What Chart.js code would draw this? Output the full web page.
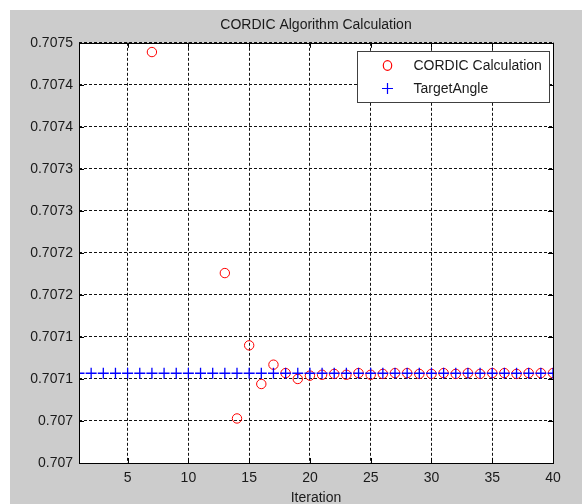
<!DOCTYPE html>
<html>
<head>
<meta charset="utf-8">
<script src="https://cdn.jsdelivr.net/npm/chart.js@4/dist/chart.umd.min.js"></script>
<style>
  html, body { margin: 0; padding: 0; background: #ffffff; overflow: hidden; }
  #panel { position: absolute; left: 10px; top: 10px; width: 572px; height: 494px; background: #cccccc; }
</style>
</head>
<body>
<div id="panel"><canvas id="cordicChart" width="572" height="494"></canvas></div>
<script>
// iteration numbers (x)
const iterations = [1, 2, 3, 4, 5, 6, 7, 8, 9, 10, 11, 12, 13, 14, 15, 16, 17, 18, 19, 20,
                    21, 22, 23, 24, 25, 26, 27, 28, 29, 30, 31, 32, 33, 34, 35, 36, 37, 38, 39, 40];

// CORDIC result per iteration (null = outside the visible range)
const cordicValues = [null, null, null, null, null, null, 0.707489, null, null, null, null, null,
                      0.707226, 0.707053, 0.707140, 0.707094, 0.707117, 0.707107, 0.707100, 0.707104,
                      0.707105, 0.707106, 0.707105, 0.707107, 0.707105, 0.707106, 0.707107, 0.707107,
                      0.707106, 0.707106, 0.707107, 0.707106, 0.707107, 0.707106, 0.707107, 0.707107,
                      0.707106, 0.707107, 0.707107, 0.707107];

// target angle value (cos 45deg)
const targetValues = [0.7071068, 0.7071068, 0.7071068, 0.7071068, 0.7071068, 0.7071068, 0.7071068, 0.7071068,
                      0.7071068, 0.7071068, 0.7071068, 0.7071068, 0.7071068, 0.7071068, 0.7071068, 0.7071068,
                      0.7071068, 0.7071068, 0.7071068, 0.7071068, 0.7071068, 0.7071068, 0.7071068, 0.7071068,
                      0.7071068, 0.7071068, 0.7071068, 0.7071068, 0.7071068, 0.7071068, 0.7071068, 0.7071068,
                      0.7071068, 0.7071068, 0.7071068, 0.7071068, 0.7071068, 0.7071068, 0.7071068, 0.7071068];

// axis ticks and their labels (MATLAB truncated the y labels to 4 decimals)
const xTicks = [5, 10, 15, 20, 25, 30, 35, 40];
const yTicks = [0.707, 0.70705, 0.7071, 0.70715, 0.7072, 0.70725, 0.7073, 0.70735, 0.7074, 0.70745, 0.7075];
const yTickLabels = ['0.707', '0.707', '0.7071', '0.7071', '0.7072', '0.7072', '0.7073', '0.7073', '0.7074', '0.7074', '0.7075'];

const FONT = '"Liberation Sans", Arial, sans-serif';
const FONT_SIZE = 14;
const TEXT_COLOR = '#1a1a1a';

// white plot background
const plotBackground = {
    id: 'plotBackground',
    beforeDraw(chart) {
        const { ctx, chartArea: a } = chart;
        ctx.save();
        ctx.fillStyle = '#ffffff';
        ctx.fillRect(a.left, a.top, a.right - a.left, a.bottom - a.top);
        ctx.restore();
    }
};

// solid box around the axes plus inward tick marks on all four sides
const axesFrame = {
    id: 'axesFrame',
    afterDatasetsDraw(chart) {
        const { ctx, chartArea: a, scales } = chart;
        const len = 5;
        ctx.save();
        ctx.strokeStyle = '#000000';
        ctx.lineWidth = 1;
        ctx.beginPath();
        scales.x.ticks.forEach(t => {
            const px = Math.round(scales.x.getPixelForValue(t.value)) + 0.5;
            ctx.moveTo(px, a.bottom); ctx.lineTo(px, a.bottom - len);
            ctx.moveTo(px, a.top); ctx.lineTo(px, a.top + len);
        });
        scales.y.ticks.forEach(t => {
            const py = Math.round(scales.y.getPixelForValue(t.value)) + 0.5;
            ctx.moveTo(a.left, py); ctx.lineTo(a.left + len, py);
            ctx.moveTo(a.right, py); ctx.lineTo(a.right - len, py);
        });
        ctx.stroke();
        ctx.strokeRect(Math.round(a.left) + 0.5, Math.round(a.top) + 0.5,
                       Math.round(a.right - a.left), Math.round(a.bottom - a.top));
        ctx.restore();
    }
};

// MATLAB style legend box in the upper right corner
const boxLegend = {
    id: 'boxLegend',
    afterDraw(chart) {
        const { ctx, chartArea: a } = chart;
        const w = 192, h = 51;
        const x = Math.round(a.right - 4 - w) + 0.5;
        const y = Math.round(a.top + 8) + 0.5;
        ctx.save();
        ctx.fillStyle = '#ffffff';
        ctx.fillRect(x, y, w, h);
        ctx.strokeStyle = '#404040';
        ctx.lineWidth = 1;
        ctx.strokeRect(x, y, w, h);

        ctx.font = FONT_SIZE + 'px ' + FONT;
        ctx.fillStyle = TEXT_COLOR;
        ctx.textBaseline = 'middle';
        chart.data.datasets.forEach((ds, i) => {
            const my = y + 14 + i * 23;
            const mx = x + 30;
            ctx.strokeStyle = ds.borderColor;
            ctx.lineWidth = 1.2;
            ctx.beginPath();
            if (ds.pointStyle === 'circle') {
                ctx.ellipse(mx, my, 4.2, 4.8, 0, 0, Math.PI * 2);
            } else {
                ctx.moveTo(mx - 5.5, my); ctx.lineTo(mx + 5.5, my);
                ctx.moveTo(mx, my - 5.5); ctx.lineTo(mx, my + 5.5);
            }
            ctx.stroke();
            ctx.fillText(ds.label, x + 56, my + 1);
        });
        ctx.restore();
    }
};

new Chart(document.getElementById('cordicChart'), {
    type: 'scatter',
    data: {
        datasets: [
            {
                label: 'CORDIC Calculation',
                data: iterations.map((it, i) => ({ x: it, y: cordicValues[i] })),
                pointStyle: 'circle',
                pointRadius: 4.7,
                borderColor: '#ff0000',
                backgroundColor: 'rgba(0,0,0,0)',
                borderWidth: 1,
                showLine: false,
                order: 1 // drawn first, crosses go on top
            },
            {
                label: 'TargetAngle',
                data: iterations.map((it, i) => ({ x: it, y: targetValues[i] })),
                pointStyle: 'cross',
                pointRadius: 5.5,
                borderColor: '#0000ff',
                backgroundColor: '#0000ff',
                borderWidth: 1.3,
                showLine: false,
                order: 0
            }
        ]
    },
    options: {
        responsive: false,
        animation: false,
        layout: { padding: { left: 0, right: 29, top: 0, bottom: 0 } },
        plugins: {
            legend: { display: false },
            tooltip: { enabled: false },
            title: {
                display: true,
                text: 'CORDIC Algorithm Calculation',
                fullSize: false,
                color: TEXT_COLOR,
                font: { family: FONT, size: FONT_SIZE, weight: 'normal' },
                padding: { top: 7, bottom: 9 }
            }
        },
        scales: {
            x: {
                type: 'linear',
                min: 1,
                max: 40,
                afterBuildTicks: s => { s.ticks = xTicks.map(v => ({ value: v })); },
                afterFit: s => { s.height = 41; },
                ticks: {
                    autoSkip: false,
                    maxRotation: 0,
                    padding: 7,
                    color: TEXT_COLOR,
                    font: { family: FONT, size: FONT_SIZE }
                },
                grid: { color: '#111111', lineWidth: 1, drawTicks: false },
                border: { display: false, dash: [3, 2] },
                title: {
                    display: true,
                    text: 'Iteration',
                    color: TEXT_COLOR,
                    font: { family: FONT, size: FONT_SIZE },
                    padding: { top: 0, bottom: -3 }
                }
            },
            y: {
                type: 'linear',
                min: 0.707,
                max: 0.7075,
                afterBuildTicks: s => { s.ticks = yTicks.map(v => ({ value: v })); },
                afterFit: s => { s.width = 69; },
                ticks: {
                    autoSkip: false,
                    padding: 6,
                    color: TEXT_COLOR,
                    font: { family: FONT, size: FONT_SIZE },
                    callback: (value, index) => yTickLabels[index]
                },
                grid: { color: '#111111', lineWidth: 1, drawTicks: false },
                border: { display: false, dash: [3, 2] }
            }
        }
    },
    plugins: [plotBackground, axesFrame, boxLegend]
});
</script>
</body>
</html>
